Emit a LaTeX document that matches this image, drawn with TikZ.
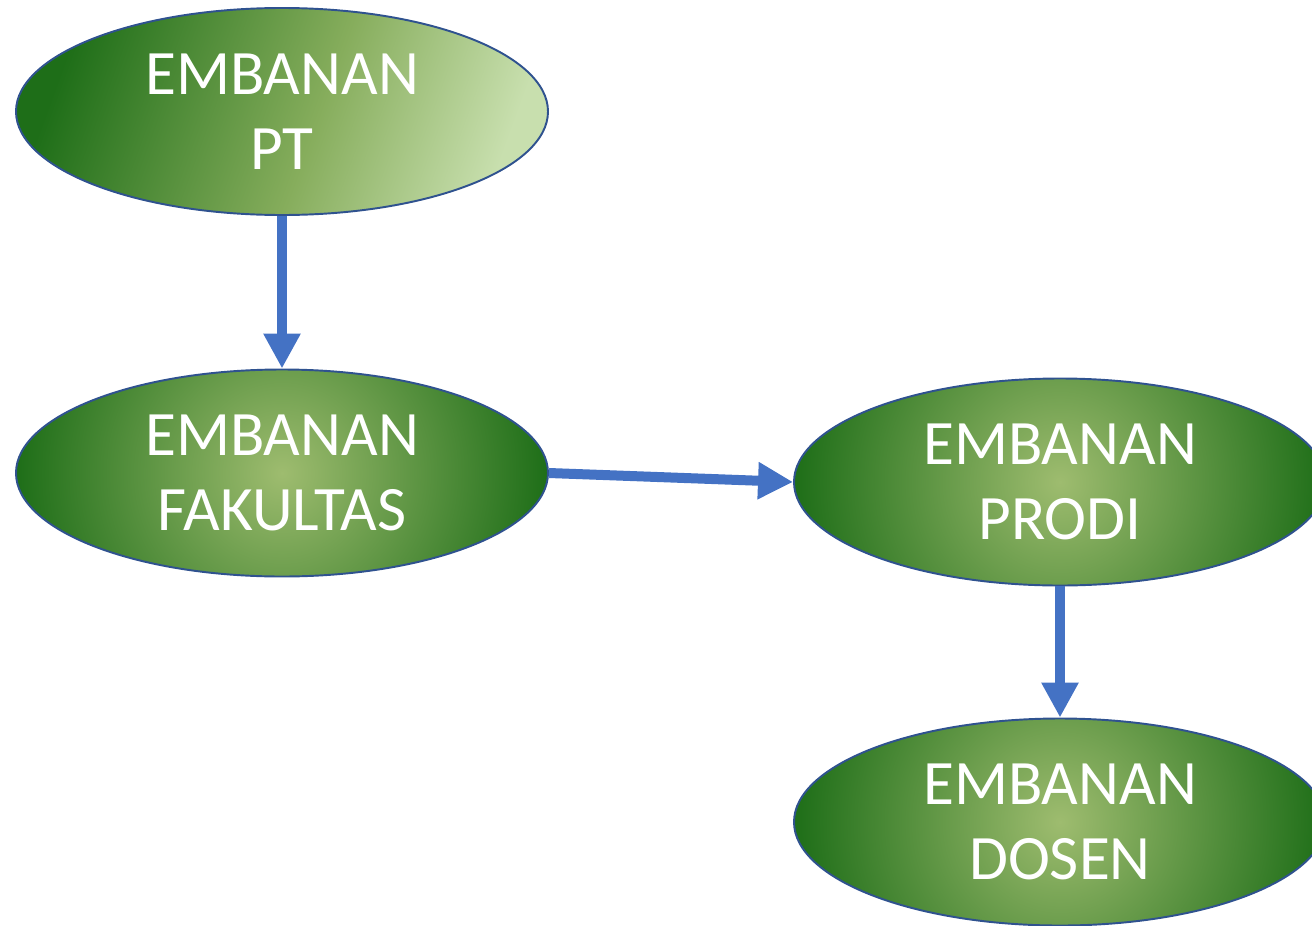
\documentclass[tikz,border=0pt]{standalone}
\usepackage{fontspec}
\setmainfont{Carlito}
\usetikzlibrary{shapes.geometric, arrows.meta, positioning}

\definecolor{embdark}{HTML}{1E6E18}
\definecolor{embmid}{HTML}{86AD5C}
\definecolor{emblight}{HTML}{C8DFAE}
\definecolor{embglow}{HTML}{9EBC6F}
\definecolor{embedge}{HTML}{2F528F}
\definecolor{embarrow}{HTML}{4472C4}

\pgfdeclareradialshading{embradial}{\pgfpoint{0bp}{0bp}}{color(0bp)=(embglow); color(25bp)=(embdark); color(50bp)=(embdark)}
\pgfdeclarehorizontalshading{emblinear}{100bp}{color(0bp)=(embdark); color(25bp)=(embdark); color(54bp)=(embmid); color(75bp)=(emblight); color(100bp)=(emblight)}

\begin{document}
\begin{tikzpicture}[
    duty/.style={ellipse, draw=embedge, line width=1.1pt, minimum width=10.64cm, minimum height=4.14cm,
        text=white, align=center, font=\fontsize{36}{43}\selectfont},
    radglow/.style={path picture={\shade[shading=embradial] (path picture bounding box.center) circle (5.32cm);}},
    flow/.style={draw=embarrow, line width=0.2cm, -{Triangle[length=0.7cm, width=0.7cm]}}
]
    \useasboundingbox (0,0) rectangle (26.24,-18.5);

    \node[duty, shading=emblinear, shading angle=-20] (pt) at (5.64,-2.23) {EMBANAN\\PT};
    \node[duty, radglow] (fak) at (5.64,-9.46) {EMBANAN\\FAKULTAS};
    \node[duty, radglow] (prodi) at (21.2,-9.64) {EMBANAN\\PRODI};
    \node[duty, radglow] (dosen) at (21.2,-16.44) {EMBANAN\\DOSEN};

    \draw[flow] (pt.south) -- (fak.north);
    \draw[flow] (fak.east) -- (prodi.west);
    \draw[flow] (prodi.south) -- (dosen.north);
\end{tikzpicture}
\end{document}
